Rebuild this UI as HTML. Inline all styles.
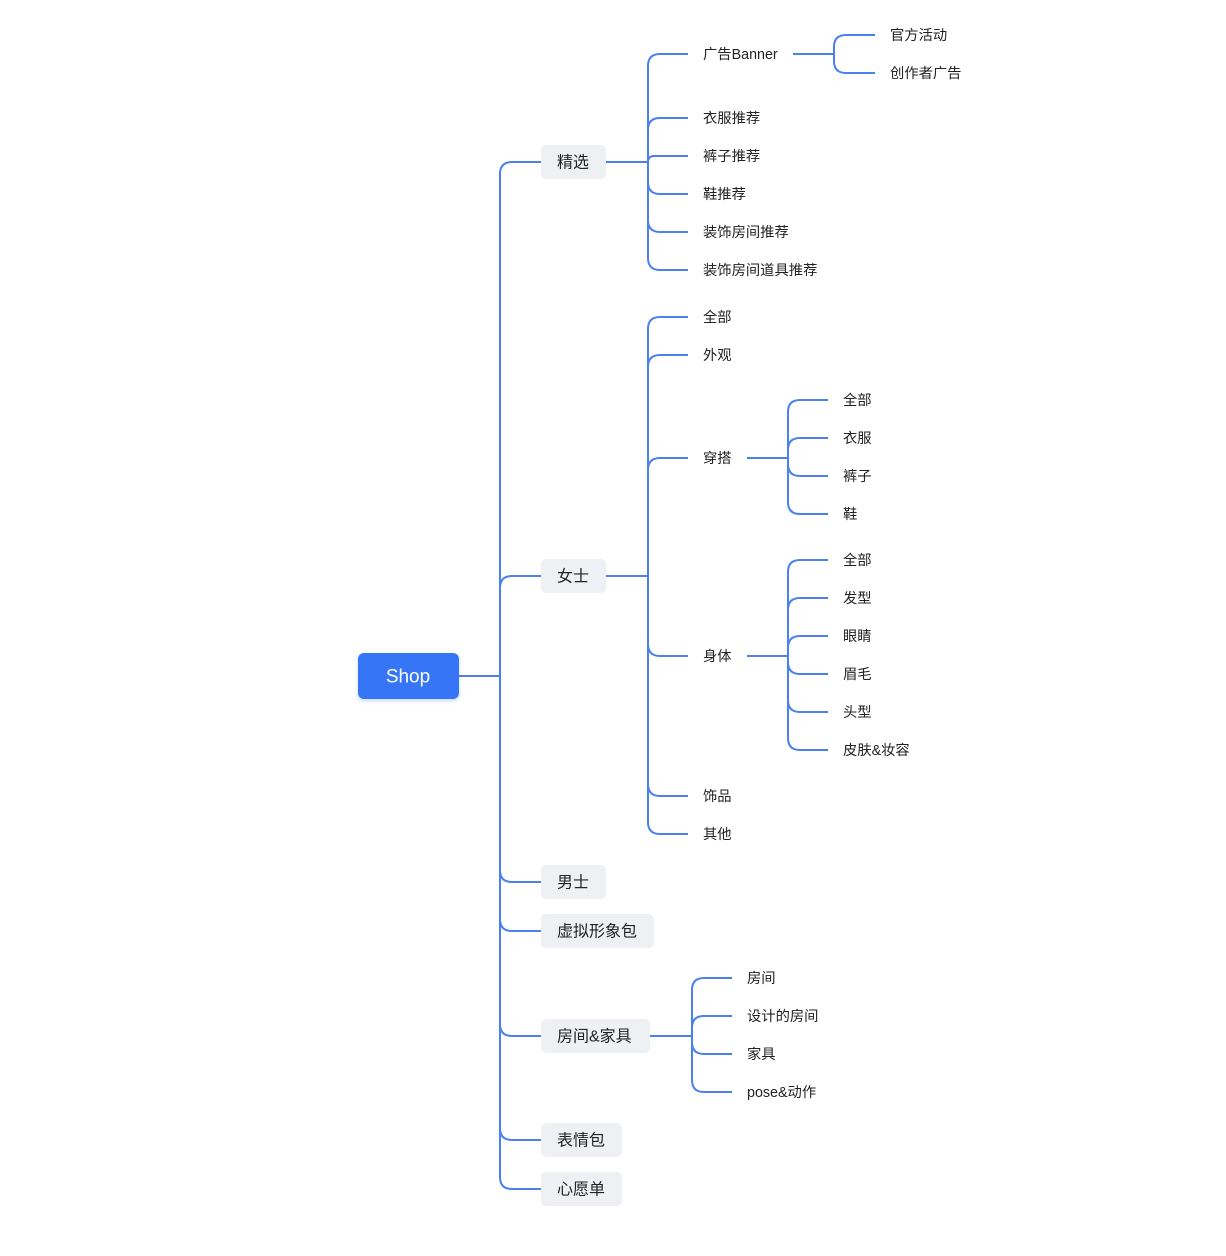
<!DOCTYPE html>
<html><head><meta charset="utf-8"><style>
html,body{margin:0;padding:0;background:#fff;}
svg{display:block;}
text{font-family:"Liberation Sans","Noto Sans CJK SC",sans-serif;fill:#222;dominant-baseline:central;}
.l{font-size:14.3px;}
.n{font-size:16px;}
</style></head><body>
<svg width="1226" height="1256" viewBox="0 0 1226 1256" xmlns="http://www.w3.org/2000/svg">
<defs><filter id="sh" x="-20%" y="-20%" width="140%" height="160%"><feDropShadow dx="0" dy="2" stdDeviation="2" flood-color="#3574f6" flood-opacity="0.25"/></filter></defs>
<g fill="none" stroke="#4a80f0" stroke-width="2">
<path d="M459 676 H500"/>
<path d="M500 676 V174 Q500 162 512 162 H541"/>
<path d="M500 676 V588 Q500 576 512 576 H541"/>
<path d="M500 676 V870 Q500 882 512 882 H541"/>
<path d="M500 676 V919 Q500 931 512 931 H541"/>
<path d="M500 676 V1024 Q500 1036 512 1036 H541"/>
<path d="M500 676 V1128 Q500 1140 512 1140 H541"/>
<path d="M500 676 V1177 Q500 1189 512 1189 H541"/>

<path d="M606 162 H648"/>
<path d="M648 162 V66 Q648 54 660 54 H688"/>
<path d="M648 162 V130 Q648 118 660 118 H688"/>
<path d="M648 162 Q648 156 654 156 H688"/>
<path d="M648 162 V182 Q648 194 660 194 H688"/>
<path d="M648 162 V220 Q648 232 660 232 H688"/>
<path d="M648 162 V258 Q648 270 660 270 H688"/>

<path d="M793 54 H834"/>
<path d="M834 54 V47 Q834 35 846 35 H875"/>
<path d="M834 54 V61 Q834 73 846 73 H875"/>

<path d="M606 576 H648"/>
<path d="M648 576 V329 Q648 317 660 317 H688"/>
<path d="M648 576 V367 Q648 355 660 355 H688"/>
<path d="M648 576 V470 Q648 458 660 458 H688"/>
<path d="M648 576 V644 Q648 656 660 656 H688"/>
<path d="M648 576 V784 Q648 796 660 796 H688"/>
<path d="M648 576 V822 Q648 834 660 834 H688"/>

<path d="M747 458 H788"/>
<path d="M788 458 V412 Q788 400 800 400 H828"/>
<path d="M788 458 V450 Q788 438 800 438 H828"/>
<path d="M788 458 V464 Q788 476 800 476 H828"/>
<path d="M788 458 V502 Q788 514 800 514 H828"/>

<path d="M747 656 H788"/>
<path d="M788 656 V572 Q788 560 800 560 H828"/>
<path d="M788 656 V610 Q788 598 800 598 H828"/>
<path d="M788 656 V648 Q788 636 800 636 H828"/>
<path d="M788 656 V662 Q788 674 800 674 H828"/>
<path d="M788 656 V700 Q788 712 800 712 H828"/>
<path d="M788 656 V738 Q788 750 800 750 H828"/>

<path d="M650 1036 H692"/>
<path d="M692 1036 V990 Q692 978 704 978 H732"/>
<path d="M692 1036 V1028 Q692 1016 704 1016 H732"/>
<path d="M692 1036 V1042 Q692 1054 704 1054 H732"/>
<path d="M692 1036 V1080 Q692 1092 704 1092 H732"/>
</g>

<rect x="358" y="653" width="101" height="46" rx="6" fill="#3574f6" filter="url(#sh)"/>
<text x="408" y="677" text-anchor="middle" style="fill:#fff;font-size:19px">Shop</text>

<g fill="#eef0f3">
<rect x="541" y="145" width="65" height="34" rx="5"/>
<rect x="541" y="559" width="65" height="34" rx="5"/>
<rect x="541" y="865" width="65" height="34" rx="5"/>
<rect x="541" y="914" width="113" height="34" rx="5"/>
<rect x="541" y="1019" width="109" height="34" rx="5"/>
<rect x="541" y="1123" width="81" height="34" rx="5"/>
<rect x="541" y="1172" width="81" height="34" rx="5"/>
</g>
<g class="n" transform="translate(0,1)">
<text x="557" y="162">精选</text>
<text x="557" y="576">女士</text>
<text x="557" y="882">男士</text>
<text x="557" y="931">虚拟形象包</text>
<text x="557" y="1036">房间&amp;家具</text>
<text x="557" y="1140">表情包</text>
<text x="557" y="1189">心愿单</text>
</g>
<g class="l" transform="translate(0,1)">
<text x="703" y="54">广告Banner</text>
<text x="890" y="35">官方活动</text>
<text x="890" y="73">创作者广告</text>
<text x="703" y="118">衣服推荐</text>
<text x="703" y="156">裤子推荐</text>
<text x="703" y="194">鞋推荐</text>
<text x="703" y="232">装饰房间推荐</text>
<text x="703" y="270">装饰房间道具推荐</text>
<text x="703" y="317">全部</text>
<text x="703" y="355">外观</text>
<text x="703" y="458">穿搭</text>
<text x="843" y="400">全部</text>
<text x="843" y="438">衣服</text>
<text x="843" y="476">裤子</text>
<text x="843" y="514">鞋</text>
<text x="703" y="656">身体</text>
<text x="843" y="560">全部</text>
<text x="843" y="598">发型</text>
<text x="843" y="636">眼睛</text>
<text x="843" y="674">眉毛</text>
<text x="843" y="712">头型</text>
<text x="843" y="750">皮肤&amp;妆容</text>
<text x="703" y="796">饰品</text>
<text x="703" y="834">其他</text>
<text x="747" y="978">房间</text>
<text x="747" y="1016">设计的房间</text>
<text x="747" y="1054">家具</text>
<text x="747" y="1092">pose&amp;动作</text>
</g>
</svg>
</body></html>
